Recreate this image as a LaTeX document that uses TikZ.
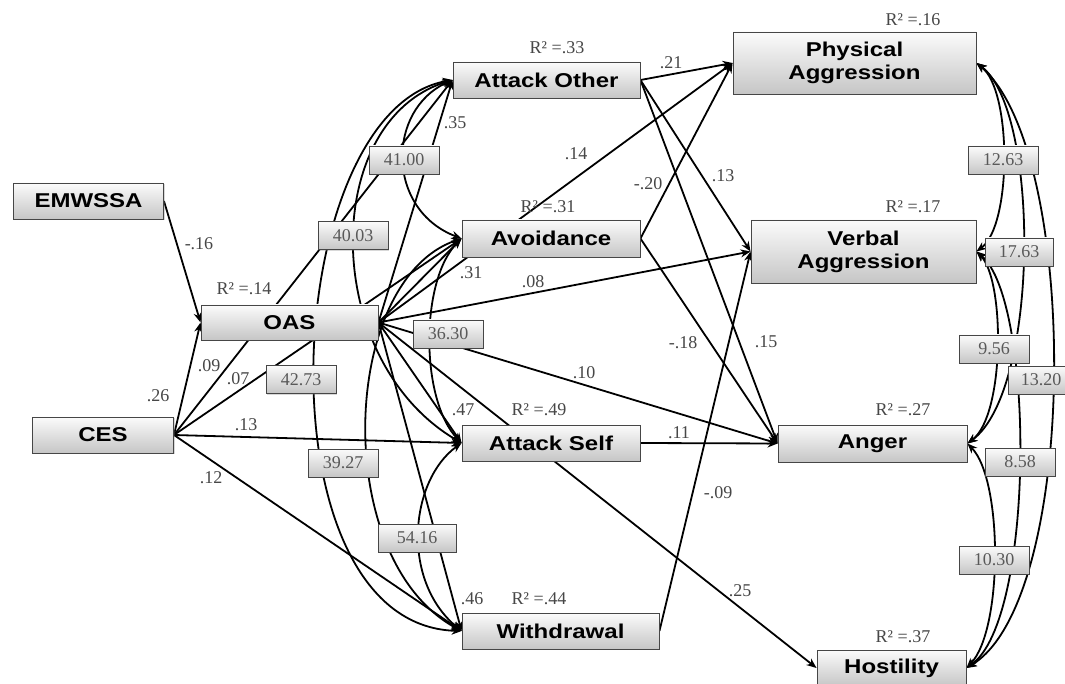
\documentclass[tikz,border=0pt]{standalone}
\usepackage{fontspec}
\setmainfont{Liberation Serif}
\newfontfamily\boxfont[FakeStretch=1.2]{Liberation Sans}
\usetikzlibrary{arrows.meta,shadows,backgrounds}
\begin{document}
\begin{tikzpicture}[x=1pt,y=-1pt,
  var/.style={draw=gray!55!black, line width=0.9pt, top color=gray!3, bottom color=gray!45,
    drop shadow={shadow xshift=1.3pt,shadow yshift=-1.3pt,opacity=.3},
    font=\boxfont\bfseries\fontsize{20}{23}\selectfont, align=center, inner sep=0pt},
  covbox/.style={draw=gray!55!black, line width=0.8pt, top color=gray!3, bottom color=gray!45,
    drop shadow={shadow xshift=1.2pt,shadow yshift=-1.2pt,opacity=.3},
    font=\fontsize{18}{20}\selectfont, text=black!65, minimum width=70pt, minimum height=28pt, inner sep=0pt},
  coef/.style={font=\fontsize{18}{20}\selectfont, text=black!72, inner sep=1pt},
  reg/.style={line width=1.8pt, -{Stealth[length=10pt,width=8pt]}},
  cv/.style={line width=1.8pt, {Stealth[length=10pt,width=8pt]}-{Stealth[length=10pt,width=8pt]}},
]
\useasboundingbox (0,0) rectangle (1065,684);

% variables
\node[var, minimum width=150pt, minimum height=36pt] (EM) at (88.5,201) {EMWSSA};
\node[var, minimum width=141pt, minimum height=36pt] (CES) at (103,435) {CES};
\node[var, minimum width=177pt, minimum height=35pt] (OAS) at (289.5,322.5) {OAS};
\node[var, minimum width=187pt, minimum height=36pt] (AO) at (546.5,80) {Attack Other};
\node[var, minimum width=178pt, minimum height=37pt] (AV) at (551,238.5) {Avoidance};
\node[var, minimum width=178pt, minimum height=36pt] (AS) at (551,443) {Attack Self};
\node[var, minimum width=197pt, minimum height=36pt] (WD) at (560.5,631) {Withdrawal};
\node[var, minimum width=243pt, minimum height=62pt] (PA) at (854.5,63) {Physical\\Aggression};
\node[var, minimum width=225pt, minimum height=63pt] (VA) at (863.5,251.5) {Verbal\\Aggression};
\node[var, minimum width=189pt, minimum height=37pt] (AN) at (872.5,443.5) {Anger};
\node[var, minimum width=149pt, minimum height=36pt] (HO) at (891.5,668) {Hostility};

% covariance labels
\node[covbox] (k1) at (404,160) {41.00};
\node[covbox] (k2) at (353,235.5) {40.03};
\node[covbox] (k3) at (301,379.5) {42.73};
\node[covbox] (k4) at (448,334) {36.30};
\node[covbox] (k5) at (343,463) {39.27};
\node[covbox, minimum width=78pt] (k6) at (417,538) {54.16};
\node[covbox] (k7) at (1003,160) {12.63};
\node[covbox, minimum width=68pt] (k8) at (1019,252) {17.63};
\node[covbox] (k9) at (994,349) {9.56};
\node[covbox, minimum width=66pt] (k10) at (1041,380) {13.20};
\node[covbox] (k11) at (1020,462) {8.58};
\node[covbox] (k12) at (994,560) {10.30};

% path coefficients
\node[coef] (c1) at (199,244) {-.16};
\node[coef] (c2) at (158,396) {.26};
\node[coef] (c3) at (209,366) {.09};
\node[coef] (c4) at (238,379) {.07};
\node[coef] (c5) at (246,425) {.13};
\node[coef] (c6) at (211,478) {.12};
\node[coef] (c7) at (455,123) {.35};
\node[coef] (c8) at (471,273) {.31};
\node[coef] (c9) at (533,282) {.08};
\node[coef] (c10) at (584,373) {.10};
\node[coef] (c11) at (463,410) {.47};
\node[coef] (c12) at (472,599) {.46};
\node[coef] (c13) at (671,63) {.21};
\node[coef] (c14) at (576,154) {.14};
\node[coef] (c15) at (648,184) {-.20};
\node[coef] (c16) at (723,176) {.13};
\node[coef] (c17) at (683,343) {-.18};
\node[coef] (c18) at (766,342) {.15};
\node[coef] (c19) at (679,433) {.11};
\node[coef] (c20) at (718,493) {-.09};
\node[coef] (c21) at (740,591) {.25};

% R squared
\node[coef] (r1) at (913,20) {R² =.16};
\node[coef] (r2) at (913,207) {R² =.17};
\node[coef] (r3) at (557,48) {R² =.33};
\node[coef] (r4) at (548,207) {R² =.31};
\node[coef] (r5) at (244,289) {R² =.14};
\node[coef] (r6) at (539,410) {R² =.49};
\node[coef] (r7) at (539,599) {R² =.44};
\node[coef] (r8) at (903,410) {R² =.27};
\node[coef] (r9) at (903,637) {R² =.37};

\begin{scope}[on background layer]
\fill[white] (0,0) rectangle (1065,684);
% regression paths
\draw[reg] (EM.east) -- (OAS.west);
\draw[reg] (CES.east) -- (OAS.west);
\draw[reg] (CES.east) -- (AO.west);
\draw[reg] (CES.east) -- (AV.west);
\draw[reg] (CES.east) -- (AS.west);
\draw[reg] (CES.east) -- (WD.west);
\draw[reg] (OAS.east) -- (AO.west);
\draw[reg] (OAS.east) -- (AV.west);
\draw[reg] (OAS.east) -- (AS.west);
\draw[reg] (OAS.east) -- (WD.west);
\draw[reg] (OAS.east) -- (PA.west);
\draw[reg] (OAS.east) -- (VA.west);
\draw[reg] (OAS.east) -- (AN.west);
\draw[reg] (OAS.east) -- (HO.west);
\draw[reg] (AO.east) -- (PA.west);
\draw[reg] (AO.east) -- (VA.west);
\draw[reg] (AO.east) -- (AN.west);
\draw[reg] (AV.east) -- (PA.west);
\draw[reg] (AV.east) -- (AN.west);
\draw[reg] (AS.east) -- (AN.west);
\draw[reg] (WD.east) -- (VA.west);
% covariances, mediators
\draw[cv] (AO.west) .. controls (386,110) and (386,210) .. (AV.west);
\draw[cv] (AO.west) .. controls (320,120) and (320,360) .. (AS.west);
\draw[cv] (AO.west) .. controls (280,110) and (255,625) .. (WD.west);
\draw[cv] (AV.west) .. controls (420,280) and (420,400) .. (AS.west);
\draw[cv] (AV.west) .. controls (340,280) and (330,560) .. (WD.west);
\draw[cv] (AS.west) .. controls (410,480) and (400,580) .. (WD.west);
% covariances, outcomes
\draw[cv] (PA.east) .. controls (1012,90) and (1012,225) .. (VA.east);
\draw[cv] (PA.east) .. controls (1040,110) and (1040,390) .. (AN.east);
\draw[cv] (PA.east) .. controls (1080,150) and (1080,600) .. (HO.east);
\draw[cv] (VA.east) .. controls (1005,280) and (1005,415) .. (AN.east);
\draw[cv] (VA.east) .. controls (1035,300) and (1035,620) .. (HO.east);
\draw[cv] (AN.east) .. controls (1003,480) and (1003,630) .. (HO.east);
\end{scope}
\end{tikzpicture}
\end{document}
